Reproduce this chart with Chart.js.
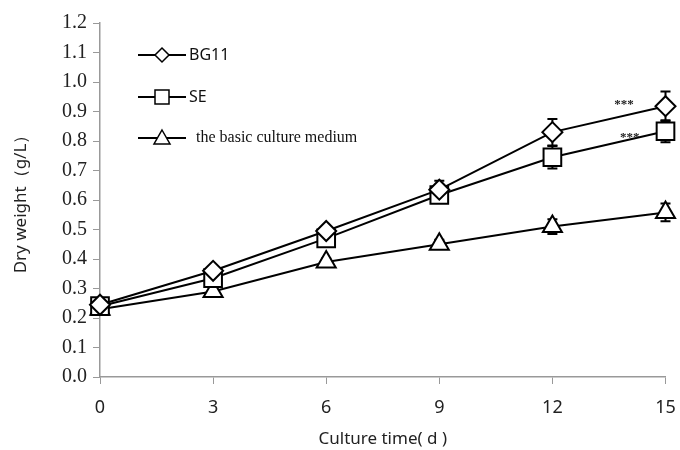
<!DOCTYPE html>
<html>
<head>
<meta charset="utf-8">
<script src="https://cdn.jsdelivr.net/npm/chart.js@4"></script>
<style>
  body { margin: 0; background: #fff; }
  #wrap { width: 680px; height: 450px; position: relative; }
</style>
</head>
<body>
<div id="wrap"><canvas id="dwChart"></canvas></div>
<script>
const days = [0, 3, 6, 9, 12, 15];
const bg11 = [0.245, 0.36, 0.495, 0.635, 0.83, 0.918];
const bg11Err = [0.01, 0.012, 0.015, 0.03, 0.045, 0.05];
const se = [0.24, 0.335, 0.47, 0.617, 0.745, 0.833];
const seErr = [0.01, 0.012, 0.015, 0.02, 0.038, 0.037];
const basic = [0.23, 0.29, 0.39, 0.45, 0.51, 0.558];
const basicErr = [0.01, 0.01, 0.012, 0.015, 0.025, 0.03];
const seriesNames = ['BG11', 'SE', 'the basic culture medium'];
const xTicks = [0, 3, 6, 9, 12, 15];
const sigMarks = [
    { x: 13.9, y: 0.932, text: '***' },
    { x: 14.05, y: 0.82, text: '***' }
];

function toPoints(values) {
    return values.map((v, i) => ({ x: days[i], y: v }));
}

// error bars, drawn under the markers
const errorBars = {
    id: 'errorBars',
    beforeDatasetsDraw(chart) {
        const ctx = chart.ctx;
        const xs = chart.scales.x, ys = chart.scales.y;
        ctx.save();
        ctx.strokeStyle = '#000';
        ctx.lineWidth = 2;
        chart.data.datasets.forEach(ds => {
            ds.data.forEach((p, i) => {
                const e = ds.errors[i];
                const px = xs.getPixelForValue(p.x);
                const top = ys.getPixelForValue(p.y + e);
                const bot = ys.getPixelForValue(p.y - e);
                ctx.beginPath();
                ctx.moveTo(px, top); ctx.lineTo(px, bot);
                ctx.moveTo(px - 5, top); ctx.lineTo(px + 5, top);
                ctx.moveTo(px - 5, bot); ctx.lineTo(px + 5, bot);
                ctx.stroke();
            });
        });
        ctx.restore();
    }
};

function drawMarker(ctx, style, x, y, r) {
    ctx.beginPath();
    if (style === 'rectRot') {
        ctx.moveTo(x, y - r); ctx.lineTo(x + r, y); ctx.lineTo(x, y + r); ctx.lineTo(x - r, y);
    } else if (style === 'rect') {
        ctx.rect(x - r, y - r, 2 * r, 2 * r);
    } else {
        ctx.moveTo(x, y - r); ctx.lineTo(x + r, y + r * 0.75); ctx.lineTo(x - r, y + r * 0.75);
    }
    ctx.closePath();
    ctx.fill();
    ctx.stroke();
}

// legend inside the plot + significance stars
const extras = {
    id: 'extras',
    afterDraw(chart) {
        const ctx = chart.ctx;
        const xs = chart.scales.x, ys = chart.scales.y;
        ctx.save();
        const rows = [55, 97, 138];
        const sizes = [7, 7, 8];
        chart.data.datasets.forEach((ds, i) => {
            const y = rows[i];
            ctx.strokeStyle = '#000';
            ctx.lineWidth = 2;
            ctx.beginPath();
            ctx.moveTo(138, y); ctx.lineTo(186, y);
            ctx.stroke();
            ctx.fillStyle = '#fff';
            ctx.lineWidth = 1.5;
            drawMarker(ctx, ds.pointStyle, 162, y, sizes[i]);
            ctx.fillStyle = '#111';
            ctx.textBaseline = 'middle';
            ctx.textAlign = 'left';
            if (i === 2) {
                ctx.font = '16px "Liberation Serif"';
                ctx.fillText(ds.label, 196, y);
            } else {
                ctx.font = '16px "Noto Sans"';
                ctx.fillText(ds.label, 189, y);
            }
        });
        ctx.font = 'bold 13px "Liberation Serif"';
        ctx.textAlign = 'center';
        ctx.fillStyle = '#222';
        sigMarks.forEach(m => {
            ctx.fillText(m.text, xs.getPixelForValue(m.x), ys.getPixelForValue(m.y) + 3);
        });
        ctx.restore();
    }
};

const ctx = document.getElementById('dwChart').getContext('2d');
const lineDs = (label, values, errs, style, radius) => ({
    label: label,
    data: toPoints(values),
    errors: errs,
    borderColor: '#000',
    borderWidth: 2,
    backgroundColor: '#fff',
    pointStyle: style,
    pointRadius: radius,
    pointHoverRadius: radius,
    pointBorderWidth: 2,
    pointBackgroundColor: '#fff',
    pointBorderColor: '#000',
    tension: 0,
    clip: false
});

new Chart(ctx, {
    type: 'line',
    data: {
        datasets: [
            lineDs(seriesNames[0], bg11, bg11Err, 'rectRot', 10),
            lineDs(seriesNames[1], se, seErr, 'rect', 12.5),
            lineDs(seriesNames[2], basic, basicErr, 'triangle', 11)
        ]
    },
    options: {
        responsive: true,
        maintainAspectRatio: false,
        animation: false,
        layout: { padding: { top: 23, right: 12, left: 0, bottom: 0 } },
        plugins: { legend: { display: false }, tooltip: { enabled: false } },
        scales: {
            x: {
                type: 'linear',
                min: 0, max: 15,
                afterBuildTicks: s => { s.ticks = xTicks.map(v => ({ value: v })); },
                afterFit: s => { s.height = 73; s.paddingRight = 0; s.paddingLeft = 0; },
                grid: { drawOnChartArea: false, color: '#999', tickLength: 7 },
                border: { color: '#999', width: 1.5 },
                ticks: { color: '#222', font: { family: '"Noto Sans"', size: 18 }, padding: 13 },
                title: {
                    display: true, text: 'Culture time( d )', color: '#222',
                    font: { family: '"Noto Sans"', size: 17 }, padding: { top: 0, bottom: 1 }
                }
            },
            y: {
                min: 0, max: 1.2,
                afterFit: s => { s.width = 100; },
                grid: { drawOnChartArea: false, color: '#999', tickLength: 7 },
                border: { color: '#999', width: 1.5 },
                ticks: {
                    stepSize: 0.1, color: '#222', padding: 6,
                    font: { family: '"Liberation Serif"', size: 20 },
                    callback: v => v.toFixed(1)
                },
                title: {
                    display: true, text: 'Dry weight（g/L）', color: '#222',
                    font: { family: '"Noto Sans"', size: 17 }, padding: { top: 11, bottom: 0 }
                }
            }
        }
    },
    plugins: [errorBars, extras]
});
</script>
</body>
</html>
